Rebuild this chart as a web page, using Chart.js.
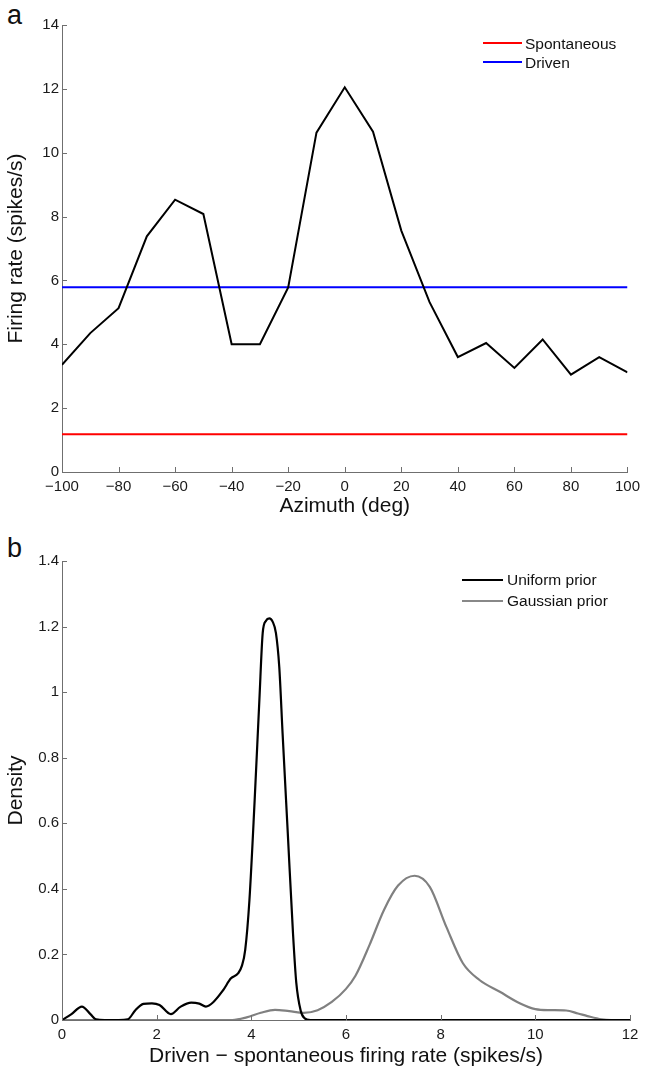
<!DOCTYPE html>
<html>
<head>
<meta charset="utf-8">
<script src="https://cdn.jsdelivr.net/npm/chart.js@4.4.1/dist/chart.umd.min.js"></script>
<style>
body { margin: 0; background: #fff; width: 646px; height: 1069px; position: relative; overflow: hidden; font-family: "Liberation Sans", Arial, sans-serif; }
canvas { position: absolute; left: 0; }
#c1 { top: 0; }
#c2 { top: 530px; }
.panel { position: absolute; font-size: 27px; line-height: 27px; color: #111; }
.ln { position: absolute; height: 2px; }
.lt { position: absolute; font-size: 15.5px; line-height: 18px; color: #111; white-space: nowrap; }
</style>
</head>
<body>
<div class="panel" style="left:7px;top:2px">a</div>
<div class="panel" style="left:7px;top:535px">b</div>
<canvas id="c1" width="646" height="530"></canvas>
<canvas id="c2" width="646" height="539"></canvas>

<div class="ln" style="left:483px;top:42px;width:39px;background:#ff0000"></div>
<div class="lt" style="left:525px;top:35px">Spontaneous</div>
<div class="ln" style="left:483px;top:61px;width:39px;background:#0000ff"></div>
<div class="lt" style="left:525px;top:54px">Driven</div>

<div class="ln" style="left:462px;top:579px;width:41px;background:#000"></div>
<div class="lt" style="left:507px;top:571px">Uniform prior</div>
<div class="ln" style="left:462px;top:600px;width:41px;background:#888"></div>
<div class="lt" style="left:507px;top:592px">Gaussian prior</div>

<script>
// panel a: tuning curve
const azimuth = [-100, -90, -80, -70, -60, -50, -40, -30, -20, -10, 0, 10, 20, 30, 40, 50, 60, 70, 80, 90, 100];
const firingRate = [3.36, 4.35, 5.13, 7.38, 8.53, 8.08, 4.0, 4.0, 5.78, 10.63, 12.05, 10.66, 7.56, 5.32, 3.6, 4.04, 3.26, 4.15, 3.05, 3.6, 3.12];
const spontaneousRate = [1.18, 1.18];
const drivenRate = [5.79, 5.79];
const azRange = [-100, 100];

// panel b: posterior densities
const uniformX = [0, 0.2, 0.42, 0.6, 0.72, 0.9, 1.2, 1.39, 1.55, 1.72, 1.9, 2.06, 2.3, 2.5, 2.73, 2.9, 3.04, 3.2, 3.4, 3.57, 3.72, 3.8, 3.87, 3.96, 4.07, 4.17, 4.24, 4.31, 4.38, 4.45, 4.52, 4.59, 4.66, 4.77, 4.88, 4.95, 5.04, 5.12, 5.25, 6, 8, 10, 12];
const uniformDensity = [0, 0.018, 0.041, 0.018, 0.002, 0, 0, 0.002, 0.03, 0.049, 0.051, 0.046, 0.018, 0.04, 0.053, 0.05, 0.041, 0.055, 0.09, 0.127, 0.142, 0.165, 0.213, 0.366, 0.67, 0.976, 1.18, 1.218, 1.225, 1.215, 1.18, 1.077, 0.875, 0.57, 0.265, 0.113, 0.03, 0.006, 0, 0, 0, 0, 0];
const gaussX = [0, 3.6, 3.9, 4.2, 4.5, 4.8, 5.1, 5.4, 5.7, 6.0, 6.2, 6.5, 6.8, 7.1, 7.45, 7.77, 8.12, 8.47, 8.82, 9.25, 9.67, 10.0, 10.3, 10.65, 10.9, 11.1, 11.4, 11.6, 12];
const gaussDensity = [0, 0, 0.008, 0.022, 0.031, 0.027, 0.022, 0.03, 0.055, 0.095, 0.135, 0.23, 0.335, 0.41, 0.44, 0.406, 0.284, 0.173, 0.122, 0.086, 0.051, 0.033, 0.03, 0.029, 0.02, 0.012, 0.002, 0, 0];

const AXIS = '#6f6f6f';
Chart.defaults.font.family = '"Liberation Sans", Arial, sans-serif';
Chart.defaults.color = '#1a1a1a';

const pts = (xs, ys) => xs.map((x, i) => ({x: x, y: ys[i]}));
const minus = v => String(v).replace('-', '\u2212');

// matlab style ticks pointing into the plot
const inwardTicks = {
    id: 'inwardTicks',
    afterDraw(chart) {
        const {ctx, chartArea: a, scales: {x, y}} = chart;
        ctx.save();
        ctx.strokeStyle = AXIS;
        ctx.lineWidth = 1;
        ctx.beginPath();
        x.ticks.forEach(t => {
            const p = Math.round(x.getPixelForValue(t.value)) + 0.5;
            ctx.moveTo(p, a.bottom); ctx.lineTo(p, a.bottom - 5);
        });
        y.ticks.forEach(t => {
            const p = Math.round(y.getPixelForValue(t.value)) + 0.5;
            ctx.moveTo(a.left, p); ctx.lineTo(a.left + 5, p);
        });
        ctx.stroke();
        ctx.restore();
    }
};

function axis(min, max, step, title, fmt, isX, h, titlePad) {
    return {
        type: 'linear', min: min, max: max,
        grid: {display: true, drawOnChartArea: false, drawTicks: false},
        border: {display: true, color: AXIS, width: 1},
        ticks: {stepSize: step, autoSkip: false, maxRotation: 0, padding: isX ? 6 : 3, font: {size: 15}, callback: fmt},
        title: {display: true, text: title, color: '#111', font: {size: 21}, padding: titlePad},
        afterFit: s => { if (isX) s.height = h; else s.width = h; }
    };
}

function baseOpts(top, xAx, yAx) {
    return {
        responsive: false, animation: false, events: [],
        layout: {padding: {top: top, right: 16, left: 0, bottom: 0}, autoPadding: false},
        plugins: {legend: {display: false}, tooltip: {enabled: false}},
        elements: {point: {radius: 0}},
        scales: {x: xAx, y: yAx}
    };
}

new Chart(document.getElementById('c1'), {
    type: 'line',
    data: {
        datasets: [
            {data: pts(azimuth, firingRate), borderColor: '#000', borderWidth: 2, tension: 0},
            {data: pts(azRange, spontaneousRate), borderColor: '#ff0000', borderWidth: 2},
            {data: pts(azRange, drivenRate), borderColor: '#0000ff', borderWidth: 2}
        ]
    },
    options: baseOpts(25,
        axis(-100, 100, 20, 'Azimuth (deg)', v => minus(v), true, 58, {top: 0, bottom: 11.5}),
        axis(0, 14, 2, 'Firing rate (spikes/s)', v => minus(v), false, 62, {top: 4, bottom: 0})),
    plugins: [inwardTicks]
});

new Chart(document.getElementById('c2'), {
    type: 'line',
    data: {
        datasets: [
            {data: pts(uniformX, uniformDensity), borderColor: '#000', borderWidth: 2.2, cubicInterpolationMode: 'monotone'},
            {data: pts(gaussX, gaussDensity), borderColor: '#808080', borderWidth: 2.2, cubicInterpolationMode: 'monotone'}
        ]
    },
    options: baseOpts(31,
        axis(0, 12, 2, 'Driven \u2212 spontaneous firing rate (spikes/s)', v => minus(v), true, 49, {top: 0, bottom: 0}),
        axis(0, 1.4, 0.2, 'Density', v => String(Math.round(v * 10) / 10), false, 62, {top: 4, bottom: 0})),
    plugins: [inwardTicks]
});
</script>
</body>
</html>
